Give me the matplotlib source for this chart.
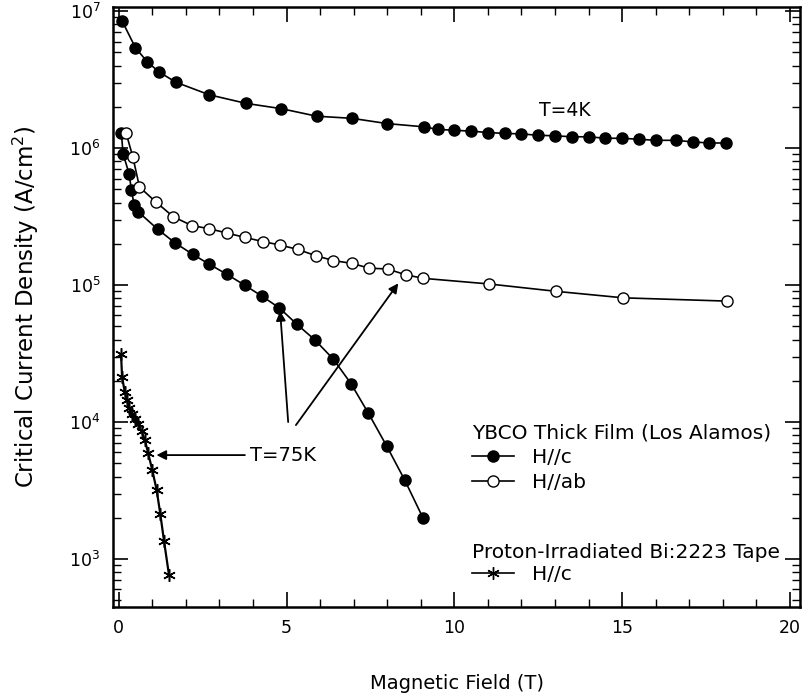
import numpy as np
import matplotlib
matplotlib.use("Agg")
import matplotlib.pyplot as plt
from matplotlib.lines import Line2D
from matplotlib.ticker import MultipleLocator, LogLocator, LogFormatterSciNotation, NullFormatter

# YBCO thick film, T=4K, H//c
x_4k = [0.1, 0.5, 0.85, 1.2, 1.7, 2.7, 3.8, 4.85, 5.9, 6.95, 8.0, 9.1, 9.5, 10.0, 10.5,
        11.0, 11.5, 12.0, 12.5, 13.0, 13.5, 14.0, 14.5, 15.0, 15.5, 16.0, 16.6, 17.1, 17.6, 18.1]
jc_4k = [8.5e6, 5.4e6, 4.27e6, 3.6e6, 3.03e6, 2.45e6, 2.12e6, 1.94e6, 1.71e6, 1.65e6, 1.51e6,
         1.43e6, 1.37e6, 1.35e6, 1.33e6, 1.30e6, 1.28e6, 1.27e6, 1.24e6, 1.23e6, 1.21e6, 1.21e6,
         1.18e6, 1.18e6, 1.16e6, 1.14e6, 1.14e6, 1.11e6, 1.09e6, 1.09e6]

# YBCO thick film, T=75K, H//c
x_75c = [0.08, 0.13, 0.31, 0.38, 0.46, 0.58, 1.16, 1.67, 2.2, 2.7, 3.22, 3.75, 4.27, 4.79,
         5.3, 5.85, 6.4, 6.92, 7.44, 7.99, 8.52, 9.06]
jc_75c = [1.29e6, 9.1e5, 6.5e5, 4.93e5, 3.84e5, 3.43e5, 2.56e5, 2.04e5, 1.68e5, 1.42e5, 1.2e5,
          1.0e5, 8.3e4, 6.8e4, 5.2e4, 3.97e4, 2.87e4, 1.91e4, 1.16e4, 6.65e3, 3.78e3, 2.01e3]

# YBCO thick film, T=75K, H//ab
x_75ab = [0.22, 0.42, 0.62, 1.1, 1.63, 2.18, 2.7, 3.22, 3.76, 4.29, 4.81, 5.34, 5.87, 6.4,
          6.95, 7.46, 8.01, 8.55, 9.08, 11.02, 13.04, 15.04, 18.12]
jc_75ab = [1.29e6, 8.65e5, 5.2e5, 4.06e5, 3.15e5, 2.72e5, 2.58e5, 2.4e5, 2.23e5, 2.08e5, 1.96e5,
           1.82e5, 1.64e5, 1.51e5, 1.44e5, 1.33e5, 1.31e5, 1.19e5, 1.12e5, 1.02e5, 9.0e4,
           8.07e4, 7.64e4]

# proton-irradiated Bi:2223 tape, T=75K, H//c
x_bi = [0.07, 0.10, 0.18, 0.24, 0.31, 0.40, 0.48, 0.58, 0.68, 0.78, 0.88, 1.0, 1.13, 1.24, 1.35, 1.5]
jc_bi = [3.13e4, 2.15e4, 1.66e4, 1.45e4, 1.27e4, 1.14e4, 1.05e4, 9.7e3, 8.6e3, 7.4e3, 5.9e3,
         4.47e3, 3.2e3, 2.13e3, 1.36e3, 7.6e2]

plt.rcParams['font.family'] = ['DejaVu Sans']
plt.rcParams['mathtext.default'] = 'regular'

fig = plt.figure(figsize=(8.03, 6.96), dpi=100)
ax = fig.add_axes([0.1407, 0.1279, 0.8556, 0.862])

star = (6, 2, 0)
ax.plot(x_4k, jc_4k, 'k-', lw=1.2, marker='o', ms=8, mfc='k', mec='k')
ax.plot(x_75c, jc_75c, 'k-', lw=1.2, marker='o', ms=8, mfc='k', mec='k')
ax.plot(x_75ab, jc_75ab, 'k-', lw=1.2, marker='o', ms=8, mfc='white', mec='k', mew=1.0)
ax.plot(x_bi, jc_bi, 'k-', lw=1.6, marker=star, ms=9, mec='k', mew=1.1)

ax.set_yscale('log')
ax.set_xlim(-0.17, 20.3)
ax.set_ylim(10**2.65, 10**7.03)

ax.xaxis.set_major_locator(MultipleLocator(5))
ax.xaxis.set_minor_locator(MultipleLocator(1))
ax.yaxis.set_major_locator(LogLocator(base=10))
ax.yaxis.set_major_formatter(LogFormatterSciNotation())
ax.yaxis.set_minor_locator(LogLocator(base=10, subs=np.arange(2, 10)))
ax.yaxis.set_minor_formatter(NullFormatter())

ax.tick_params(which='both', direction='in', top=True, right=True, labelsize=12.5, pad=9)
ax.tick_params(which='major', length=11, width=1.2)
ax.tick_params(which='minor', length=6, width=1.0)
for s in ax.spines.values():
    s.set_linewidth(1.8)

ax.set_xlabel('Magnetic Field (T)', fontsize=14, labelpad=26)
ax.set_ylabel('Critical Current Density (A/cm$^2$)', fontsize=16.5, labelpad=20)

ax.text(13.3, 1.89e6, 'T=4K', fontsize=13.5, ha='center', va='center')
ax.text(3.9, 5.7e3, 'T=75K', fontsize=14, ha='left', va='center')

arr = dict(arrowstyle='-|>', color='k', lw=1.3, mutation_scale=14, shrinkA=0, shrinkB=0)
ax.annotate('', xy=(1.125, 5.74e3), xytext=(3.76, 5.74e3), arrowprops=arr)
ax.annotate('', xy=(4.81, 6.46e4), xytext=(5.05, 1.0e4), arrowprops=arr)
ax.annotate('', xy=(8.33, 1.03e5), xytext=(5.28, 9.5e3), arrowprops=arr)

h_c = Line2D([], [], color='k', lw=1.2, marker='o', ms=8, mfc='k', mec='k')
h_ab = Line2D([], [], color='k', lw=1.2, marker='o', ms=8, mfc='white', mec='k')
h_bi = Line2D([], [], color='k', lw=1.2, marker=star, ms=9, mec='k')

leg1 = ax.legend([h_c, h_ab], ['H//c', 'H//ab'], title='YBCO Thick Film (Los Alamos)',
                 loc='upper left', bbox_to_anchor=(0.522, 0.306), frameon=False,
                 fontsize=14.5, title_fontsize=14.5, alignment='left',
                 handlelength=2.1, handletextpad=0.9, labelspacing=0.3,
                 borderpad=0, borderaxespad=0)
ax.add_artist(leg1)
ax.legend([h_bi], ['H//c'], title='Proton-Irradiated Bi:2223 Tape',
          loc='upper left', bbox_to_anchor=(0.522, 0.106), frameon=False,
          fontsize=14.5, title_fontsize=14.5, alignment='left',
          handlelength=2.1, handletextpad=0.9, labelspacing=0.15,
          borderpad=0, borderaxespad=0)

fig.savefig('out.png', dpi=100)
